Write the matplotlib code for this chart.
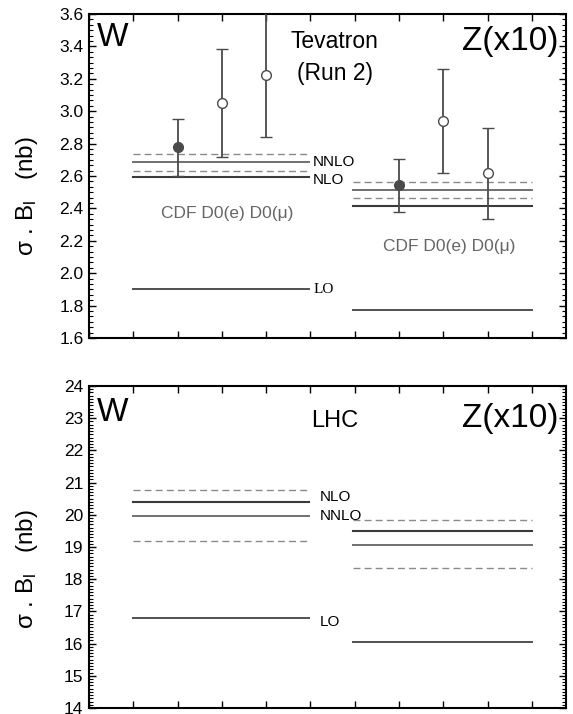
import matplotlib
matplotlib.use("Agg")
import matplotlib.pyplot as plt
from matplotlib.ticker import MultipleLocator, AutoMinorLocator, FormatStrFormatter

plt.rcParams["font.family"] = ["Liberation Sans", "DejaVu Sans"]
plt.rcParams["mathtext.fontset"] = "custom"
plt.rcParams["mathtext.rm"] = "Liberation Sans"
plt.rcParams["mathtext.it"] = "Liberation Sans:italic"

# ---- Tevatron (Run 2) ----
tev_w_x = [2, 3, 4]
tev_w_val = [2.78, 3.05, 3.225]
tev_w_lo = [2.60, 2.72, 2.84]
tev_w_hi = [2.95, 3.385, 3.62]
tev_w_filled = [True, False, False]

tev_z_x = [7, 8, 9]
tev_z_val = [2.545, 2.94, 2.618]
tev_z_lo = [2.38, 2.618, 2.335]
tev_z_hi = [2.703, 3.26, 2.898]
tev_z_filled = [True, False, False]

tev_w_theory = {"nnlo_up": 2.738, "nnlo": 2.685, "nnlo_dn": 2.633, "nlo": 2.594, "lo": 1.904}
tev_z_theory = {"nnlo_up": 2.561, "nnlo": 2.512, "nnlo_dn": 2.462, "nlo": 2.415, "lo": 1.773}

# ---- LHC ----
lhc_w_theory = {"nnlo_up": 20.77, "nlo": 20.39, "nnlo": 19.97, "nnlo_dn": 19.20, "lo": 16.78}
lhc_z_theory = {"nnlo_up": 19.85, "nlo": 19.51, "nnlo": 19.07, "nnlo_dn": 18.35, "lo": 16.05}

w_span = (1, 4.97)
z_span = (5.96, 10)

DARK = "#3a3a3a"
GREY = "#707070"
DASH = "#8a8a8a"


def draw_theory(ax, th, span):
    x0, x1 = span
    ax.plot([x0, x1], [th["nnlo_up"]] * 2, color=DASH, lw=1.0, ls=(0, (5, 3)))
    ax.plot([x0, x1], [th["nnlo_dn"]] * 2, color=DASH, lw=1.0, ls=(0, (5, 3)))
    ax.plot([x0, x1], [th["nnlo"]] * 2, color=GREY, lw=1.4)
    ax.plot([x0, x1], [th["nlo"]] * 2, color=DARK, lw=1.5)
    ax.plot([x0, x1], [th["lo"]] * 2, color="#505050", lw=1.4)


def draw_points(ax, xs, vals, lo, hi, filled):
    for x, v, l, h, f in zip(xs, vals, lo, hi, filled):
        ax.errorbar([x], [v], yerr=[[v - l], [h - v]], fmt="o", ms=7,
                    color="#4a4a4a", mfc="#4a4a4a" if f else "white",
                    mec="#4a4a4a", mew=1.0, elinewidth=1.3, capsize=4.5,
                    capthick=1.3, zorder=5)


def style_axes(ax, ylim, major, nminor):
    ax.set_xlim(0, 10.77)
    ax.set_ylim(*ylim)
    ax.xaxis.set_major_locator(MultipleLocator(1))
    ax.yaxis.set_major_locator(MultipleLocator(major))
    ax.yaxis.set_minor_locator(AutoMinorLocator(nminor))
    ax.tick_params(axis="both", which="both", direction="in",
                   top=True, right=True, labelbottom=False)
    ax.tick_params(axis="both", which="major", length=5, width=1.0)
    ax.tick_params(axis="y", which="minor", length=2.8, width=0.8)
    ax.tick_params(axis="x", which="minor", length=0)
    ax.tick_params(axis="y", labelsize=12.5, pad=4)
    for s in ax.spines.values():
        s.set_linewidth(1.5)


fig = plt.figure(figsize=(5.73, 7.14), dpi=100)
ax1 = fig.add_axes([0.1553, 0.5266, 0.8325, 0.4538])
ax2 = fig.add_axes([0.1553, 0.0084, 0.8325, 0.4510])

# top panel
draw_theory(ax1, tev_w_theory, w_span)
draw_theory(ax1, tev_z_theory, z_span)
draw_points(ax1, tev_w_x, tev_w_val, tev_w_lo, tev_w_hi, tev_w_filled)
draw_points(ax1, tev_z_x, tev_z_val, tev_z_lo, tev_z_hi, tev_z_filled)
style_axes(ax1, (1.6, 3.6), 0.2, 6)
ax1.yaxis.set_major_formatter(FormatStrFormatter("%.1f"))

ax1.text(0.18, 3.40, "W", fontsize=24, va="baseline", ha="left")
ax1.text(10.6, 3.38, "Z(x10)", fontsize=24, va="baseline", ha="right")
ax1.text(5.55, 3.39, "Tevatron", fontsize=16.5, va="baseline", ha="center")
ax1.text(5.55, 3.19, "(Run 2)", fontsize=16.5, va="baseline", ha="center")
ax1.text(5.06, 2.685, "NNLO", fontsize=11, va="center", ha="left")
ax1.text(5.06, 2.578, "NLO", fontsize=11, va="center", ha="left")
ax1.text(5.06, 1.90, "LO", fontsize=11, va="center", ha="left", family="Liberation Serif")
ax1.text(3.13, 2.34, "CDF D0(e) D0(μ)", fontsize=12.5, color="#666666",
         va="baseline", ha="center")
ax1.text(8.13, 2.14, "CDF D0(e) D0(μ)", fontsize=12.5, color="#666666",
         va="baseline", ha="center")

# bottom panel
draw_theory(ax2, lhc_w_theory, w_span)
draw_theory(ax2, lhc_z_theory, z_span)
style_axes(ax2, (14, 24), 1, 10)

ax2.text(0.18, 22.9, "W", fontsize=24, va="baseline", ha="left")
ax2.text(10.6, 22.72, "Z(x10)", fontsize=24, va="baseline", ha="right")
ax2.text(5.55, 22.72, "LHC", fontsize=17, va="baseline", ha="center")
ax2.text(5.2, 20.56, "NLO", fontsize=11, va="center", ha="left")
ax2.text(5.2, 19.96, "NNLO", fontsize=11, va="center", ha="left")
ax2.text(5.2, 16.66, "LO", fontsize=11, va="center", ha="left")

ylab = r"σ . B$_{\mathrm{l}}$   (nb)"
fig.text(0.047, 1 - 196 / 714, ylab, rotation=90, fontsize=17.5, ha="center", va="center")
fig.text(0.047, 1 - 569 / 714, ylab, rotation=90, fontsize=17.5, ha="center", va="center")

fig.savefig("out.png", dpi=100)
